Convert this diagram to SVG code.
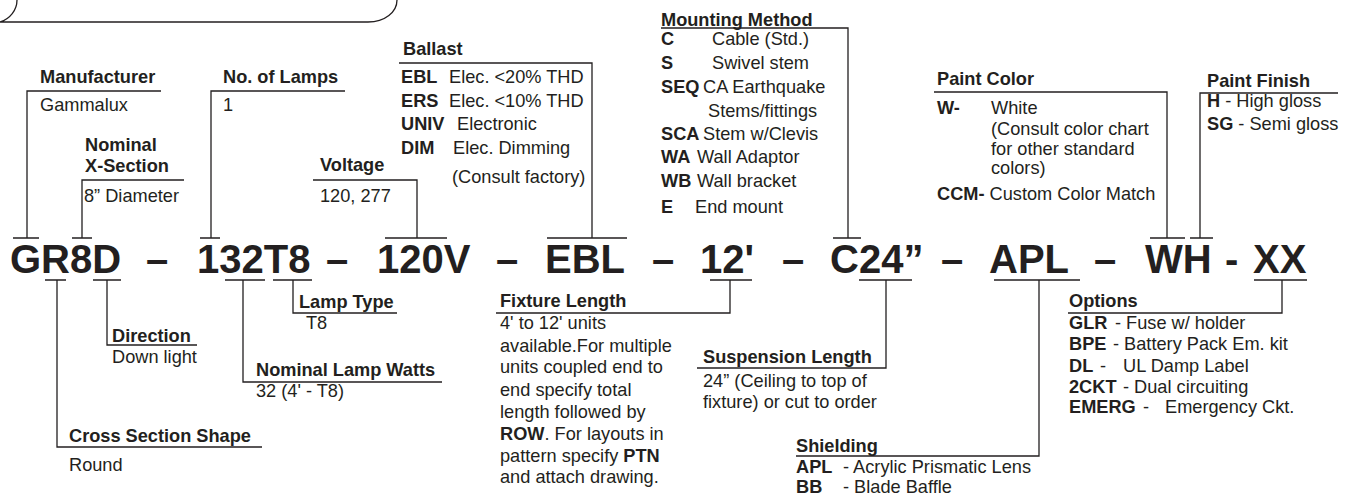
<svg xmlns="http://www.w3.org/2000/svg" width="1356" height="498" viewBox="0 0 1356 498">
<style>
.t{font-family:"Liberation Sans",Arial,sans-serif;font-size:18.2px;fill:#231f20}
.b{font-weight:bold}
.code{font-family:"Liberation Sans",Arial,sans-serif;font-size:40px;font-weight:bold;fill:#231f20}
.ln{fill:none;stroke:#231f20;stroke-width:1.3}
</style>
<rect width="1356" height="498" fill="#fff"/>
<g id="title-tab">
<path class="ln" d="M0 22 C10 19 17 10 17 0 M0 22 H368 C385 22 397 12 397 0" stroke-width="2"/>
</g>
<g id="code">
<text class="code" x="10" y="273">GR8D</text>
<text class="code" x="146" y="273">–</text>
<text class="code" x="197" y="273">132T8</text>
<text class="code" x="326" y="273">–</text>
<text class="code" x="377" y="273">120V</text>
<text class="code" x="496" y="273">–</text>
<text class="code" x="545" y="273">EBL</text>
<text class="code" x="652" y="273">–</text>
<text class="code" x="700" y="273">12'</text>
<text class="code" x="782" y="273">–</text>
<text class="code" x="830" y="273">C24”</text>
<text class="code" x="941" y="273">–</text>
<text class="code" x="989" y="273">APL</text>
<text class="code" x="1094" y="273">–</text>
<text class="code" x="1145" y="273">WH</text>
<text class="code" x="1225" y="273">-</text>
<text class="code" x="1253" y="273">XX</text>
</g>
<g id="connectors" class="ln">
<path d="M13 238H39 M27 238V91H161"/>
<path d="M72 238H92 M82 238V180H184"/>
<path d="M200 238H220 M211 238V91H345"/>
<path d="M385 238H447 M417 238V180H313"/>
<path d="M547 238H627 M592 238V63H399"/>
<path d="M833 238H861 M848 238V28H661"/>
<path d="M1150 238H1185 M1167 238V92H934"/>
<path d="M1190 238H1213 M1200 238V93H1338"/>
<path d="M45 280H66 M57 280V447H262"/>
<path d="M93 280H121 M107 280V345H197"/>
<path d="M225 280H265 M243 280V382H442"/>
<path d="M273 280H312 M293 280V313H397"/>
<path d="M710 280H752 M730 280V313H496"/>
<path d="M859 280H912 M886 280V368H697"/>
<path d="M994 280H1080 M1039 280V456H796"/>
<path d="M1254 280H1307 M1282 280V313H1068"/>
</g>
<g id="manufacturer">
<text class="t b" x="40" y="83">Manufacturer</text>
<text class="t" x="40" y="111">Gammalux</text>
</g>
<g id="x-section">
<text class="t b" x="85" y="151">Nominal</text>
<text class="t b" x="85" y="172">X-Section</text>
<text class="t" x="84" y="202">8” Diameter</text>
</g>
<g id="no-of-lamps">
<text class="t b" x="223" y="83">No. of Lamps</text>
<text class="t" x="223" y="111">1</text>
</g>
<g id="voltage">
<text class="t b" x="320" y="171">Voltage</text>
<text class="t" x="320" y="202">120, 277</text>
</g>
<g id="ballast">
<text class="t b" x="403" y="55">Ballast</text>
<text class="t b" x="401" y="83">EBL</text><text class="t" x="449" y="83">Elec. &lt;20% THD</text>
<text class="t b" x="401" y="107">ERS</text><text class="t" x="449" y="107">Elec. &lt;10% THD</text>
<text class="t b" x="401" y="130">UNIV</text><text class="t" x="457" y="130">Electronic</text>
<text class="t b" x="401" y="154">DIM</text><text class="t" x="453" y="154">Elec. Dimming</text>
<text class="t" x="452" y="183">(Consult factory)</text>
</g>
<g id="mounting-method">
<text class="t b" x="661" y="26">Mounting Method</text>
<text class="t b" x="661" y="45">C</text><text class="t" x="712" y="45">Cable (Std.)</text>
<text class="t b" x="661" y="69">S</text><text class="t" x="712" y="69">Swivel stem</text>
<text class="t b" x="661" y="93">SEQ</text><text class="t" x="703" y="93">CA Earthquake</text>
<text class="t" x="708" y="117">Stems/fittings</text>
<text class="t b" x="661" y="140">SCA</text><text class="t" x="703" y="140">Stem w/Clevis</text>
<text class="t b" x="661" y="163">WA</text><text class="t" x="697" y="163">Wall Adaptor</text>
<text class="t b" x="661" y="187">WB</text><text class="t" x="697" y="187">Wall bracket</text>
<text class="t b" x="661" y="213">E</text><text class="t" x="695" y="213">End mount</text>
</g>
<g id="paint-color">
<text class="t b" x="937" y="85">Paint Color</text>
<text class="t b" x="937" y="114">W-</text><text class="t" x="991" y="114">White</text>
<text class="t" x="991" y="135">(Consult color chart</text>
<text class="t" x="991" y="155">for other standard</text>
<text class="t" x="991" y="174">colors)</text>
<text class="t" x="937" y="200"><tspan class="b">CCM-</tspan> Custom Color Match</text>
</g>
<g id="paint-finish">
<text class="t b" x="1207" y="87">Paint Finish</text>
<text class="t" x="1207" y="107"><tspan class="b">H</tspan> - High gloss</text>
<text class="t" x="1207" y="130"><tspan class="b">SG</tspan> - Semi gloss</text>
</g>
<g id="cross-section-shape">
<text class="t b" x="69" y="442">Cross Section Shape</text>
<text class="t" x="69" y="471">Round</text>
</g>
<g id="direction">
<text class="t b" x="112" y="342">Direction</text>
<text class="t" x="112" y="363">Down light</text>
</g>
<g id="lamp-watts">
<text class="t b" x="256" y="376">Nominal Lamp Watts</text>
<text class="t" x="256" y="397">32 (4' - T8)</text>
</g>
<g id="lamp-type">
<text class="t b" x="299" y="308">Lamp Type</text>
<text class="t" x="306" y="329">T8</text>
</g>
<g id="fixture-length">
<text class="t b" x="500" y="307">Fixture Length</text>
<text class="t" x="500" y="329">4' to 12' units</text>
<text class="t" x="500" y="352">available.For multiple</text>
<text class="t" x="500" y="373">units coupled end to</text>
<text class="t" x="500" y="396">end specify total</text>
<text class="t" x="500" y="418">length followed by</text>
<text class="t" x="500" y="440"><tspan class="b">ROW</tspan>. For layouts in</text>
<text class="t" x="500" y="462">pattern specify <tspan class="b">PTN</tspan></text>
<text class="t" x="500" y="483">and attach drawing.</text>
</g>
<g id="suspension-length">
<text class="t b" x="703" y="363">Suspension Length</text>
<text class="t" x="703" y="387">24” (Ceiling to top of</text>
<text class="t" x="703" y="408">fixture) or cut to order</text>
</g>
<g id="shielding">
<text class="t b" x="796" y="452">Shielding</text>
<text class="t b" x="796" y="473">APL</text><text class="t" x="843" y="473">- Acrylic Prismatic Lens</text>
<text class="t b" x="796" y="493">BB</text><text class="t" x="843" y="493">- Blade Baffle</text>
</g>
<g id="options">
<text class="t b" x="1069" y="307">Options</text>
<text class="t b" x="1069" y="329">GLR</text><text class="t" x="1115" y="329">- Fuse w/ holder</text>
<text class="t b" x="1069" y="350">BPE</text><text class="t" x="1113" y="350">- Battery Pack Em. kit</text>
<text class="t b" x="1069" y="372">DL</text><text class="t" x="1100" y="372">-</text><text class="t" x="1123" y="372">UL Damp Label</text>
<text class="t b" x="1069" y="393">2CKT</text><text class="t" x="1123" y="393">- Dual circuiting</text>
<text class="t b" x="1069" y="413">EMERG</text><text class="t" x="1143" y="413">-</text><text class="t" x="1165" y="413">Emergency Ckt.</text>
</g>
</svg>
